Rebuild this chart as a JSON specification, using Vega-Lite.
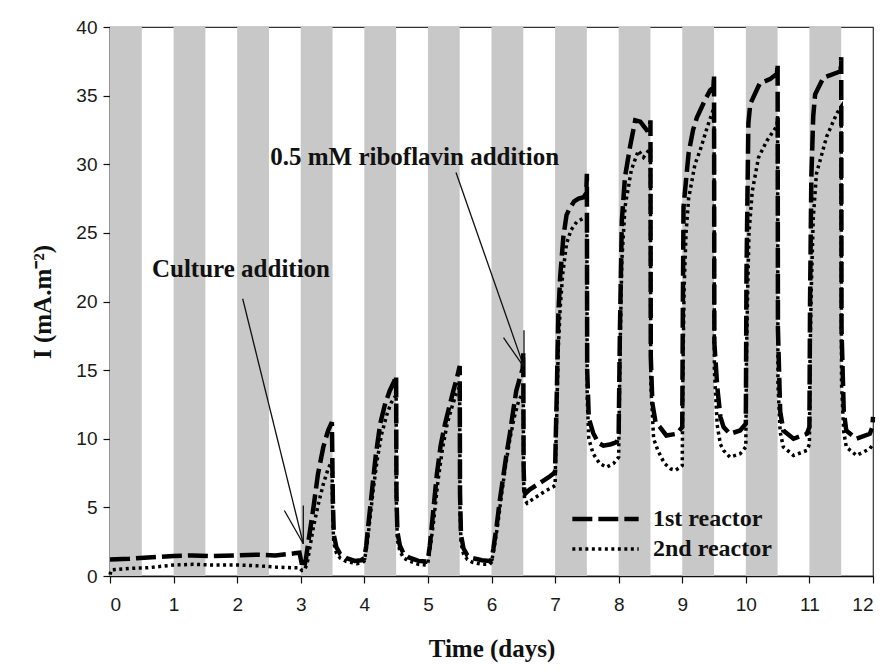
{
  "$schema": "https://vega.github.io/schema/vega-lite/v6.json",
  "width": 763,
  "height": 549,
  "autosize": {"type": "none"},
  "padding": {"left": 110, "top": 27, "right": 15, "bottom": 95},
  "background": "white",
  "config": {
    "view": {"stroke": "#333333", "strokeWidth": 1.2},
    "axis": {
      "grid": false,
      "domainColor": "#111111",
      "domainWidth": 1.5,
      "tickColor": "#111111",
      "tickWidth": 1.2,
      "tickSize": 7,
      "labelFont": "Liberation Sans",
      "labelFontSize": 19,
      "labelColor": "#1a1a1a",
      "titleFont": "Liberation Serif",
      "titleFontWeight": "bold",
      "titleFontSize": 25,
      "titleColor": "#111111"
    },
    "legend": {
      "labelFont": "Liberation Serif",
      "labelFontWeight": "bold",
      "labelFontSize": 24,
      "labelColor": "#111111"
    }
  },
  "datasets": {
    "bands": [
      {"start": 0, "end": 0.5}, {"start": 1, "end": 1.5}, {"start": 2, "end": 2.5},
      {"start": 3, "end": 3.5}, {"start": 4, "end": 4.5}, {"start": 5, "end": 5.5},
      {"start": 6, "end": 6.5}, {"start": 7, "end": 7.5}, {"start": 8, "end": 8.5},
      {"start": 9, "end": 9.5}, {"start": 10, "end": 10.5}, {"start": 11, "end": 11.5}
    ],
    "current": [
      {"day": 0.0, "I": 1.2, "reactor": "1st reactor"},
      {"day": 0.3, "I": 1.25, "reactor": "1st reactor"},
      {"day": 0.6, "I": 1.35, "reactor": "1st reactor"},
      {"day": 1.0, "I": 1.45, "reactor": "1st reactor"},
      {"day": 1.3, "I": 1.5, "reactor": "1st reactor"},
      {"day": 1.6, "I": 1.45, "reactor": "1st reactor"},
      {"day": 2.0, "I": 1.5, "reactor": "1st reactor"},
      {"day": 2.3, "I": 1.55, "reactor": "1st reactor"},
      {"day": 2.6, "I": 1.5, "reactor": "1st reactor"},
      {"day": 2.9, "I": 1.65, "reactor": "1st reactor"},
      {"day": 2.98, "I": 1.7, "reactor": "1st reactor"},
      {"day": 3.02, "I": 0.8, "reactor": "1st reactor"},
      {"day": 3.05, "I": 0.6, "reactor": "1st reactor"},
      {"day": 3.08, "I": 1.2, "reactor": "1st reactor"},
      {"day": 3.12, "I": 2.5, "reactor": "1st reactor"},
      {"day": 3.2, "I": 5.0, "reactor": "1st reactor"},
      {"day": 3.27, "I": 7.4, "reactor": "1st reactor"},
      {"day": 3.355, "I": 9.4, "reactor": "1st reactor"},
      {"day": 3.43, "I": 10.6, "reactor": "1st reactor"},
      {"day": 3.49, "I": 11.2, "reactor": "1st reactor"},
      {"day": 3.505, "I": 5.5, "reactor": "1st reactor"},
      {"day": 3.52, "I": 3.0, "reactor": "1st reactor"},
      {"day": 3.56, "I": 2.1, "reactor": "1st reactor"},
      {"day": 3.62, "I": 1.6, "reactor": "1st reactor"},
      {"day": 3.72, "I": 1.3, "reactor": "1st reactor"},
      {"day": 3.85, "I": 1.1, "reactor": "1st reactor"},
      {"day": 3.95, "I": 1.15, "reactor": "1st reactor"},
      {"day": 4.0, "I": 1.3, "reactor": "1st reactor"},
      {"day": 4.03, "I": 2.2, "reactor": "1st reactor"},
      {"day": 4.06, "I": 3.6, "reactor": "1st reactor"},
      {"day": 4.12, "I": 6.2, "reactor": "1st reactor"},
      {"day": 4.18, "I": 8.8, "reactor": "1st reactor"},
      {"day": 4.25, "I": 11.1, "reactor": "1st reactor"},
      {"day": 4.33, "I": 12.6, "reactor": "1st reactor"},
      {"day": 4.4, "I": 13.5, "reactor": "1st reactor"},
      {"day": 4.47, "I": 14.2, "reactor": "1st reactor"},
      {"day": 4.5, "I": 14.6, "reactor": "1st reactor"},
      {"day": 4.505, "I": 6.0, "reactor": "1st reactor"},
      {"day": 4.52, "I": 3.2, "reactor": "1st reactor"},
      {"day": 4.56, "I": 2.2, "reactor": "1st reactor"},
      {"day": 4.62, "I": 1.6, "reactor": "1st reactor"},
      {"day": 4.7, "I": 1.35, "reactor": "1st reactor"},
      {"day": 4.85, "I": 1.1, "reactor": "1st reactor"},
      {"day": 4.97, "I": 1.05, "reactor": "1st reactor"},
      {"day": 5.0, "I": 1.2, "reactor": "1st reactor"},
      {"day": 5.03, "I": 2.2, "reactor": "1st reactor"},
      {"day": 5.06, "I": 3.6, "reactor": "1st reactor"},
      {"day": 5.14, "I": 7.4, "reactor": "1st reactor"},
      {"day": 5.2, "I": 9.5, "reactor": "1st reactor"},
      {"day": 5.27, "I": 11.1, "reactor": "1st reactor"},
      {"day": 5.34, "I": 12.4, "reactor": "1st reactor"},
      {"day": 5.4, "I": 13.5, "reactor": "1st reactor"},
      {"day": 5.46, "I": 14.5, "reactor": "1st reactor"},
      {"day": 5.5, "I": 15.3, "reactor": "1st reactor"},
      {"day": 5.505, "I": 6.0, "reactor": "1st reactor"},
      {"day": 5.52, "I": 3.0, "reactor": "1st reactor"},
      {"day": 5.56, "I": 2.0, "reactor": "1st reactor"},
      {"day": 5.62, "I": 1.5, "reactor": "1st reactor"},
      {"day": 5.7, "I": 1.3, "reactor": "1st reactor"},
      {"day": 5.85, "I": 1.15, "reactor": "1st reactor"},
      {"day": 5.97, "I": 1.1, "reactor": "1st reactor"},
      {"day": 6.0, "I": 1.2, "reactor": "1st reactor"},
      {"day": 6.03, "I": 2.0, "reactor": "1st reactor"},
      {"day": 6.08, "I": 3.6, "reactor": "1st reactor"},
      {"day": 6.13, "I": 5.5, "reactor": "1st reactor"},
      {"day": 6.19, "I": 7.4, "reactor": "1st reactor"},
      {"day": 6.24, "I": 9.0, "reactor": "1st reactor"},
      {"day": 6.29, "I": 10.4, "reactor": "1st reactor"},
      {"day": 6.34, "I": 12.0, "reactor": "1st reactor"},
      {"day": 6.39, "I": 13.5, "reactor": "1st reactor"},
      {"day": 6.45, "I": 14.5, "reactor": "1st reactor"},
      {"day": 6.49, "I": 15.1, "reactor": "1st reactor"},
      {"day": 6.5, "I": 16.3, "reactor": "1st reactor"},
      {"day": 6.505, "I": 8.0, "reactor": "1st reactor"},
      {"day": 6.515, "I": 6.2, "reactor": "1st reactor"},
      {"day": 6.53, "I": 6.0, "reactor": "1st reactor"},
      {"day": 6.6, "I": 6.3, "reactor": "1st reactor"},
      {"day": 6.7, "I": 6.6, "reactor": "1st reactor"},
      {"day": 6.8, "I": 6.9, "reactor": "1st reactor"},
      {"day": 6.9, "I": 7.2, "reactor": "1st reactor"},
      {"day": 6.97, "I": 7.45, "reactor": "1st reactor"},
      {"day": 7.0, "I": 7.6, "reactor": "1st reactor"},
      {"day": 7.01, "I": 10.0, "reactor": "1st reactor"},
      {"day": 7.03, "I": 14.0, "reactor": "1st reactor"},
      {"day": 7.05, "I": 18.9, "reactor": "1st reactor"},
      {"day": 7.08, "I": 21.8, "reactor": "1st reactor"},
      {"day": 7.13, "I": 24.7, "reactor": "1st reactor"},
      {"day": 7.18, "I": 26.3, "reactor": "1st reactor"},
      {"day": 7.23, "I": 26.8, "reactor": "1st reactor"},
      {"day": 7.3, "I": 27.3, "reactor": "1st reactor"},
      {"day": 7.37, "I": 27.5, "reactor": "1st reactor"},
      {"day": 7.45, "I": 27.6, "reactor": "1st reactor"},
      {"day": 7.49, "I": 27.9, "reactor": "1st reactor"},
      {"day": 7.5, "I": 29.3, "reactor": "1st reactor"},
      {"day": 7.505, "I": 15.0, "reactor": "1st reactor"},
      {"day": 7.53, "I": 11.5, "reactor": "1st reactor"},
      {"day": 7.6, "I": 10.4, "reactor": "1st reactor"},
      {"day": 7.68, "I": 9.7, "reactor": "1st reactor"},
      {"day": 7.76, "I": 9.5, "reactor": "1st reactor"},
      {"day": 7.88, "I": 9.6, "reactor": "1st reactor"},
      {"day": 7.97, "I": 9.75, "reactor": "1st reactor"},
      {"day": 8.0, "I": 10.4, "reactor": "1st reactor"},
      {"day": 8.02, "I": 18.0, "reactor": "1st reactor"},
      {"day": 8.05, "I": 25.9, "reactor": "1st reactor"},
      {"day": 8.1, "I": 29.1, "reactor": "1st reactor"},
      {"day": 8.18, "I": 31.3, "reactor": "1st reactor"},
      {"day": 8.26, "I": 33.2, "reactor": "1st reactor"},
      {"day": 8.34, "I": 33.1, "reactor": "1st reactor"},
      {"day": 8.44, "I": 32.5, "reactor": "1st reactor"},
      {"day": 8.49, "I": 32.6, "reactor": "1st reactor"},
      {"day": 8.5, "I": 33.2, "reactor": "1st reactor"},
      {"day": 8.505, "I": 16.0, "reactor": "1st reactor"},
      {"day": 8.53, "I": 12.6, "reactor": "1st reactor"},
      {"day": 8.58, "I": 11.2, "reactor": "1st reactor"},
      {"day": 8.65, "I": 10.85, "reactor": "1st reactor"},
      {"day": 8.75, "I": 10.24, "reactor": "1st reactor"},
      {"day": 8.91, "I": 10.36, "reactor": "1st reactor"},
      {"day": 9.0, "I": 10.85, "reactor": "1st reactor"},
      {"day": 9.01, "I": 20.0, "reactor": "1st reactor"},
      {"day": 9.02, "I": 26.9, "reactor": "1st reactor"},
      {"day": 9.1, "I": 30.8, "reactor": "1st reactor"},
      {"day": 9.17, "I": 32.5, "reactor": "1st reactor"},
      {"day": 9.23, "I": 33.4, "reactor": "1st reactor"},
      {"day": 9.36, "I": 34.7, "reactor": "1st reactor"},
      {"day": 9.44, "I": 35.4, "reactor": "1st reactor"},
      {"day": 9.49, "I": 35.6, "reactor": "1st reactor"},
      {"day": 9.5, "I": 36.5, "reactor": "1st reactor"},
      {"day": 9.505, "I": 17.0, "reactor": "1st reactor"},
      {"day": 9.55, "I": 13.8, "reactor": "1st reactor"},
      {"day": 9.6, "I": 11.6, "reactor": "1st reactor"},
      {"day": 9.65, "I": 10.85, "reactor": "1st reactor"},
      {"day": 9.75, "I": 10.36, "reactor": "1st reactor"},
      {"day": 9.91, "I": 10.6, "reactor": "1st reactor"},
      {"day": 10.0, "I": 11.1, "reactor": "1st reactor"},
      {"day": 10.01, "I": 22.0, "reactor": "1st reactor"},
      {"day": 10.04, "I": 33.0, "reactor": "1st reactor"},
      {"day": 10.07, "I": 34.4, "reactor": "1st reactor"},
      {"day": 10.22, "I": 35.9, "reactor": "1st reactor"},
      {"day": 10.38, "I": 36.2, "reactor": "1st reactor"},
      {"day": 10.49, "I": 36.6, "reactor": "1st reactor"},
      {"day": 10.5, "I": 37.3, "reactor": "1st reactor"},
      {"day": 10.505, "I": 18.0, "reactor": "1st reactor"},
      {"day": 10.54, "I": 12.0, "reactor": "1st reactor"},
      {"day": 10.59, "I": 10.6, "reactor": "1st reactor"},
      {"day": 10.75, "I": 10.0, "reactor": "1st reactor"},
      {"day": 10.96, "I": 10.36, "reactor": "1st reactor"},
      {"day": 11.0, "I": 10.85, "reactor": "1st reactor"},
      {"day": 11.01, "I": 20.0, "reactor": "1st reactor"},
      {"day": 11.03, "I": 29.0, "reactor": "1st reactor"},
      {"day": 11.06, "I": 33.5, "reactor": "1st reactor"},
      {"day": 11.09, "I": 35.1, "reactor": "1st reactor"},
      {"day": 11.22, "I": 36.3, "reactor": "1st reactor"},
      {"day": 11.45, "I": 36.7, "reactor": "1st reactor"},
      {"day": 11.49, "I": 36.8, "reactor": "1st reactor"},
      {"day": 11.5, "I": 37.8, "reactor": "1st reactor"},
      {"day": 11.505, "I": 18.0, "reactor": "1st reactor"},
      {"day": 11.54, "I": 12.0, "reactor": "1st reactor"},
      {"day": 11.58, "I": 10.6, "reactor": "1st reactor"},
      {"day": 11.74, "I": 10.0, "reactor": "1st reactor"},
      {"day": 11.95, "I": 10.36, "reactor": "1st reactor"},
      {"day": 11.99, "I": 10.85, "reactor": "1st reactor"},
      {"day": 12.0, "I": 11.6, "reactor": "1st reactor"},

      {"day": 0.0, "I": 0.1, "reactor": "2nd reactor"},
      {"day": 0.02, "I": 0.45, "reactor": "2nd reactor"},
      {"day": 0.3, "I": 0.55, "reactor": "2nd reactor"},
      {"day": 0.6, "I": 0.6, "reactor": "2nd reactor"},
      {"day": 1.0, "I": 0.8, "reactor": "2nd reactor"},
      {"day": 1.3, "I": 0.85, "reactor": "2nd reactor"},
      {"day": 1.6, "I": 0.8, "reactor": "2nd reactor"},
      {"day": 2.0, "I": 0.8, "reactor": "2nd reactor"},
      {"day": 2.3, "I": 0.75, "reactor": "2nd reactor"},
      {"day": 2.6, "I": 0.65, "reactor": "2nd reactor"},
      {"day": 2.9, "I": 0.6, "reactor": "2nd reactor"},
      {"day": 2.98, "I": 0.6, "reactor": "2nd reactor"},
      {"day": 3.02, "I": 0.4, "reactor": "2nd reactor"},
      {"day": 3.06, "I": 0.45, "reactor": "2nd reactor"},
      {"day": 3.1, "I": 0.9, "reactor": "2nd reactor"},
      {"day": 3.2, "I": 3.6, "reactor": "2nd reactor"},
      {"day": 3.28, "I": 5.3, "reactor": "2nd reactor"},
      {"day": 3.355, "I": 6.7, "reactor": "2nd reactor"},
      {"day": 3.43, "I": 7.8, "reactor": "2nd reactor"},
      {"day": 3.49, "I": 8.4, "reactor": "2nd reactor"},
      {"day": 3.505, "I": 4.0, "reactor": "2nd reactor"},
      {"day": 3.52, "I": 2.4, "reactor": "2nd reactor"},
      {"day": 3.56, "I": 1.7, "reactor": "2nd reactor"},
      {"day": 3.62, "I": 1.3, "reactor": "2nd reactor"},
      {"day": 3.72, "I": 1.05, "reactor": "2nd reactor"},
      {"day": 3.88, "I": 0.9, "reactor": "2nd reactor"},
      {"day": 3.97, "I": 0.95, "reactor": "2nd reactor"},
      {"day": 4.0, "I": 1.1, "reactor": "2nd reactor"},
      {"day": 4.04, "I": 2.2, "reactor": "2nd reactor"},
      {"day": 4.08, "I": 3.8, "reactor": "2nd reactor"},
      {"day": 4.14, "I": 6.3, "reactor": "2nd reactor"},
      {"day": 4.2, "I": 8.4, "reactor": "2nd reactor"},
      {"day": 4.27, "I": 10.3, "reactor": "2nd reactor"},
      {"day": 4.35, "I": 11.7, "reactor": "2nd reactor"},
      {"day": 4.42, "I": 12.6, "reactor": "2nd reactor"},
      {"day": 4.5, "I": 13.2, "reactor": "2nd reactor"},
      {"day": 4.505, "I": 5.0, "reactor": "2nd reactor"},
      {"day": 4.52, "I": 2.6, "reactor": "2nd reactor"},
      {"day": 4.56, "I": 1.8, "reactor": "2nd reactor"},
      {"day": 4.62, "I": 1.3, "reactor": "2nd reactor"},
      {"day": 4.7, "I": 1.1, "reactor": "2nd reactor"},
      {"day": 4.85, "I": 0.85, "reactor": "2nd reactor"},
      {"day": 4.97, "I": 0.8, "reactor": "2nd reactor"},
      {"day": 5.0, "I": 1.0, "reactor": "2nd reactor"},
      {"day": 5.04, "I": 2.2, "reactor": "2nd reactor"},
      {"day": 5.09, "I": 4.0, "reactor": "2nd reactor"},
      {"day": 5.16, "I": 7.0, "reactor": "2nd reactor"},
      {"day": 5.23, "I": 9.3, "reactor": "2nd reactor"},
      {"day": 5.3, "I": 11.0, "reactor": "2nd reactor"},
      {"day": 5.37, "I": 12.2, "reactor": "2nd reactor"},
      {"day": 5.44, "I": 13.2, "reactor": "2nd reactor"},
      {"day": 5.5, "I": 13.8, "reactor": "2nd reactor"},
      {"day": 5.505, "I": 5.0, "reactor": "2nd reactor"},
      {"day": 5.52, "I": 2.4, "reactor": "2nd reactor"},
      {"day": 5.56, "I": 1.6, "reactor": "2nd reactor"},
      {"day": 5.62, "I": 1.2, "reactor": "2nd reactor"},
      {"day": 5.7, "I": 1.0, "reactor": "2nd reactor"},
      {"day": 5.85, "I": 0.85, "reactor": "2nd reactor"},
      {"day": 5.97, "I": 0.85, "reactor": "2nd reactor"},
      {"day": 6.0, "I": 1.0, "reactor": "2nd reactor"},
      {"day": 6.04, "I": 2.0, "reactor": "2nd reactor"},
      {"day": 6.1, "I": 3.8, "reactor": "2nd reactor"},
      {"day": 6.16, "I": 6.0, "reactor": "2nd reactor"},
      {"day": 6.22, "I": 8.0, "reactor": "2nd reactor"},
      {"day": 6.29, "I": 10.0, "reactor": "2nd reactor"},
      {"day": 6.36, "I": 11.6, "reactor": "2nd reactor"},
      {"day": 6.43, "I": 12.8, "reactor": "2nd reactor"},
      {"day": 6.5, "I": 13.4, "reactor": "2nd reactor"},
      {"day": 6.505, "I": 7.0, "reactor": "2nd reactor"},
      {"day": 6.52, "I": 5.6, "reactor": "2nd reactor"},
      {"day": 6.56, "I": 5.3, "reactor": "2nd reactor"},
      {"day": 6.65, "I": 5.6, "reactor": "2nd reactor"},
      {"day": 6.75, "I": 5.9, "reactor": "2nd reactor"},
      {"day": 6.85, "I": 6.2, "reactor": "2nd reactor"},
      {"day": 6.97, "I": 6.5, "reactor": "2nd reactor"},
      {"day": 7.0, "I": 6.6, "reactor": "2nd reactor"},
      {"day": 7.01, "I": 9.0, "reactor": "2nd reactor"},
      {"day": 7.03, "I": 12.5, "reactor": "2nd reactor"},
      {"day": 7.05, "I": 16.5, "reactor": "2nd reactor"},
      {"day": 7.08, "I": 19.5, "reactor": "2nd reactor"},
      {"day": 7.12, "I": 22.0, "reactor": "2nd reactor"},
      {"day": 7.18, "I": 24.2, "reactor": "2nd reactor"},
      {"day": 7.25, "I": 25.2, "reactor": "2nd reactor"},
      {"day": 7.34, "I": 25.8, "reactor": "2nd reactor"},
      {"day": 7.42, "I": 26.0, "reactor": "2nd reactor"},
      {"day": 7.5, "I": 26.2, "reactor": "2nd reactor"},
      {"day": 7.505, "I": 13.0, "reactor": "2nd reactor"},
      {"day": 7.53, "I": 10.0, "reactor": "2nd reactor"},
      {"day": 7.6, "I": 8.9, "reactor": "2nd reactor"},
      {"day": 7.7, "I": 8.2, "reactor": "2nd reactor"},
      {"day": 7.81, "I": 7.93, "reactor": "2nd reactor"},
      {"day": 7.92, "I": 8.2, "reactor": "2nd reactor"},
      {"day": 8.0, "I": 8.66, "reactor": "2nd reactor"},
      {"day": 8.02, "I": 16.0, "reactor": "2nd reactor"},
      {"day": 8.05, "I": 23.0, "reactor": "2nd reactor"},
      {"day": 8.1, "I": 26.9, "reactor": "2nd reactor"},
      {"day": 8.2, "I": 29.6, "reactor": "2nd reactor"},
      {"day": 8.31, "I": 31.0, "reactor": "2nd reactor"},
      {"day": 8.39, "I": 30.5, "reactor": "2nd reactor"},
      {"day": 8.47, "I": 31.0, "reactor": "2nd reactor"},
      {"day": 8.5, "I": 31.2, "reactor": "2nd reactor"},
      {"day": 8.505, "I": 14.0, "reactor": "2nd reactor"},
      {"day": 8.55, "I": 10.0, "reactor": "2nd reactor"},
      {"day": 8.62, "I": 9.1, "reactor": "2nd reactor"},
      {"day": 8.72, "I": 8.2, "reactor": "2nd reactor"},
      {"day": 8.82, "I": 7.8, "reactor": "2nd reactor"},
      {"day": 8.89, "I": 7.7, "reactor": "2nd reactor"},
      {"day": 8.96, "I": 7.9, "reactor": "2nd reactor"},
      {"day": 9.0, "I": 8.05, "reactor": "2nd reactor"},
      {"day": 9.01, "I": 15.0, "reactor": "2nd reactor"},
      {"day": 9.03, "I": 21.0, "reactor": "2nd reactor"},
      {"day": 9.06, "I": 25.0, "reactor": "2nd reactor"},
      {"day": 9.1, "I": 27.5, "reactor": "2nd reactor"},
      {"day": 9.2, "I": 30.0, "reactor": "2nd reactor"},
      {"day": 9.28, "I": 31.0, "reactor": "2nd reactor"},
      {"day": 9.4, "I": 32.8, "reactor": "2nd reactor"},
      {"day": 9.49, "I": 34.0, "reactor": "2nd reactor"},
      {"day": 9.5, "I": 34.2, "reactor": "2nd reactor"},
      {"day": 9.505, "I": 15.0, "reactor": "2nd reactor"},
      {"day": 9.55, "I": 11.0, "reactor": "2nd reactor"},
      {"day": 9.6, "I": 9.6, "reactor": "2nd reactor"},
      {"day": 9.65, "I": 9.15, "reactor": "2nd reactor"},
      {"day": 9.75, "I": 8.66, "reactor": "2nd reactor"},
      {"day": 9.91, "I": 8.9, "reactor": "2nd reactor"},
      {"day": 10.0, "I": 9.4, "reactor": "2nd reactor"},
      {"day": 10.01, "I": 16.0, "reactor": "2nd reactor"},
      {"day": 10.03, "I": 21.0, "reactor": "2nd reactor"},
      {"day": 10.05, "I": 25.0, "reactor": "2nd reactor"},
      {"day": 10.1, "I": 28.0, "reactor": "2nd reactor"},
      {"day": 10.2, "I": 30.5, "reactor": "2nd reactor"},
      {"day": 10.33, "I": 31.7, "reactor": "2nd reactor"},
      {"day": 10.49, "I": 32.8, "reactor": "2nd reactor"},
      {"day": 10.5, "I": 33.5, "reactor": "2nd reactor"},
      {"day": 10.505, "I": 14.0, "reactor": "2nd reactor"},
      {"day": 10.54, "I": 10.5, "reactor": "2nd reactor"},
      {"day": 10.59, "I": 9.4, "reactor": "2nd reactor"},
      {"day": 10.75, "I": 8.78, "reactor": "2nd reactor"},
      {"day": 10.96, "I": 9.15, "reactor": "2nd reactor"},
      {"day": 11.0, "I": 9.6, "reactor": "2nd reactor"},
      {"day": 11.01, "I": 16.0, "reactor": "2nd reactor"},
      {"day": 11.03, "I": 21.0, "reactor": "2nd reactor"},
      {"day": 11.06, "I": 26.0, "reactor": "2nd reactor"},
      {"day": 11.11, "I": 29.3, "reactor": "2nd reactor"},
      {"day": 11.27, "I": 32.0, "reactor": "2nd reactor"},
      {"day": 11.43, "I": 33.7, "reactor": "2nd reactor"},
      {"day": 11.5, "I": 34.2, "reactor": "2nd reactor"},
      {"day": 11.505, "I": 14.0, "reactor": "2nd reactor"},
      {"day": 11.54, "I": 10.5, "reactor": "2nd reactor"},
      {"day": 11.58, "I": 9.4, "reactor": "2nd reactor"},
      {"day": 11.74, "I": 8.78, "reactor": "2nd reactor"},
      {"day": 11.95, "I": 9.27, "reactor": "2nd reactor"},
      {"day": 12.0, "I": 9.6, "reactor": "2nd reactor"}
    ],
    "arrows": [
      {"x": 2.087, "y": 20.2, "x2": 3.04, "y2": 2.35},
      {"x": 2.742, "y": 4.77, "x2": 3.04, "y2": 2.35},
      {"x": 3.04, "y": 5.14, "x2": 3.04, "y2": 2.35},
      {"x": 5.442, "y": 29.4, "x2": 6.511, "y2": 15.22},
      {"x": 6.189, "y": 17.36, "x2": 6.511, "y2": 15.22},
      {"x": 6.511, "y": 17.9, "x2": 6.511, "y2": 15.22}
    ],
    "notes": [
      {"x": 0.66, "y": 22.4, "text": "Culture addition"},
      {"x": 2.52, "y": 30.5, "text": "0.5 mM riboflavin addition"}
    ]
  },
  "layer": [
    {
      "data": {"name": "bands"},
      "mark": {"type": "rect", "color": "#c8c8c8"},
      "encoding": {
        "x": {"field": "start", "type": "quantitative"},
        "x2": {"field": "end"}
      }
    },
    {
      "data": {"name": "current"},
      "mark": {"type": "line", "color": "black", "strokeCap": "butt"},
      "encoding": {
        "x": {
          "field": "day", "type": "quantitative",
          "scale": {"domain": [0, 12], "nice": false, "zero": false},
          "axis": {
            "title": "Time (days)",
            "values": [0, 1, 2, 3, 4, 5, 6, 7, 8, 9, 10, 11, 12],
            "format": "d",
            "labelPadding": 12,
            "titlePadding": 22
          }
        },
        "y": {
          "field": "I", "type": "quantitative",
          "scale": {"domain": [0, 40], "nice": false},
          "axis": {
            "title": "I (mA.m⁻²)",
            "values": [0, 5, 10, 15, 20, 25, 30, 35, 40],
            "labelPadding": 6,
            "titlePadding": 20
          }
        },
        "strokeDash": {
          "field": "reactor", "type": "nominal",
          "scale": {"domain": ["1st reactor", "2nd reactor"], "range": [[20, 6], [3, 3.5]]},
          "legend": {
            "title": null,
            "orient": "none",
            "legendX": 460,
            "legendY": 480,
            "symbolType": "stroke",
            "symbolSize": 4400,
            "symbolStrokeColor": "black",
            "symbolStrokeWidth": 4.5,
            "clipHeight": 24,
            "labelOffset": 12,
            "rowPadding": 6,
            "padding": 0
          }
        },
        "strokeWidth": {
          "field": "reactor", "type": "nominal",
          "scale": {"domain": ["1st reactor", "2nd reactor"], "range": [4.5, 3.5]},
          "legend": null
        }
      }
    },
    {
      "data": {"name": "arrows"},
      "mark": {"type": "rule", "color": "#111111", "strokeWidth": 1.3},
      "encoding": {
        "x": {"field": "x", "type": "quantitative"},
        "y": {"field": "y", "type": "quantitative"},
        "x2": {"field": "x2"},
        "y2": {"field": "y2"}
      }
    },
    {
      "data": {"name": "notes"},
      "mark": {
        "type": "text",
        "align": "left",
        "baseline": "middle",
        "font": "Liberation Serif",
        "fontWeight": "bold",
        "fontSize": 25,
        "color": "#111111"
      },
      "encoding": {
        "x": {"field": "x", "type": "quantitative"},
        "y": {"field": "y", "type": "quantitative"},
        "text": {"field": "text"}
      }
    }
  ]
}
